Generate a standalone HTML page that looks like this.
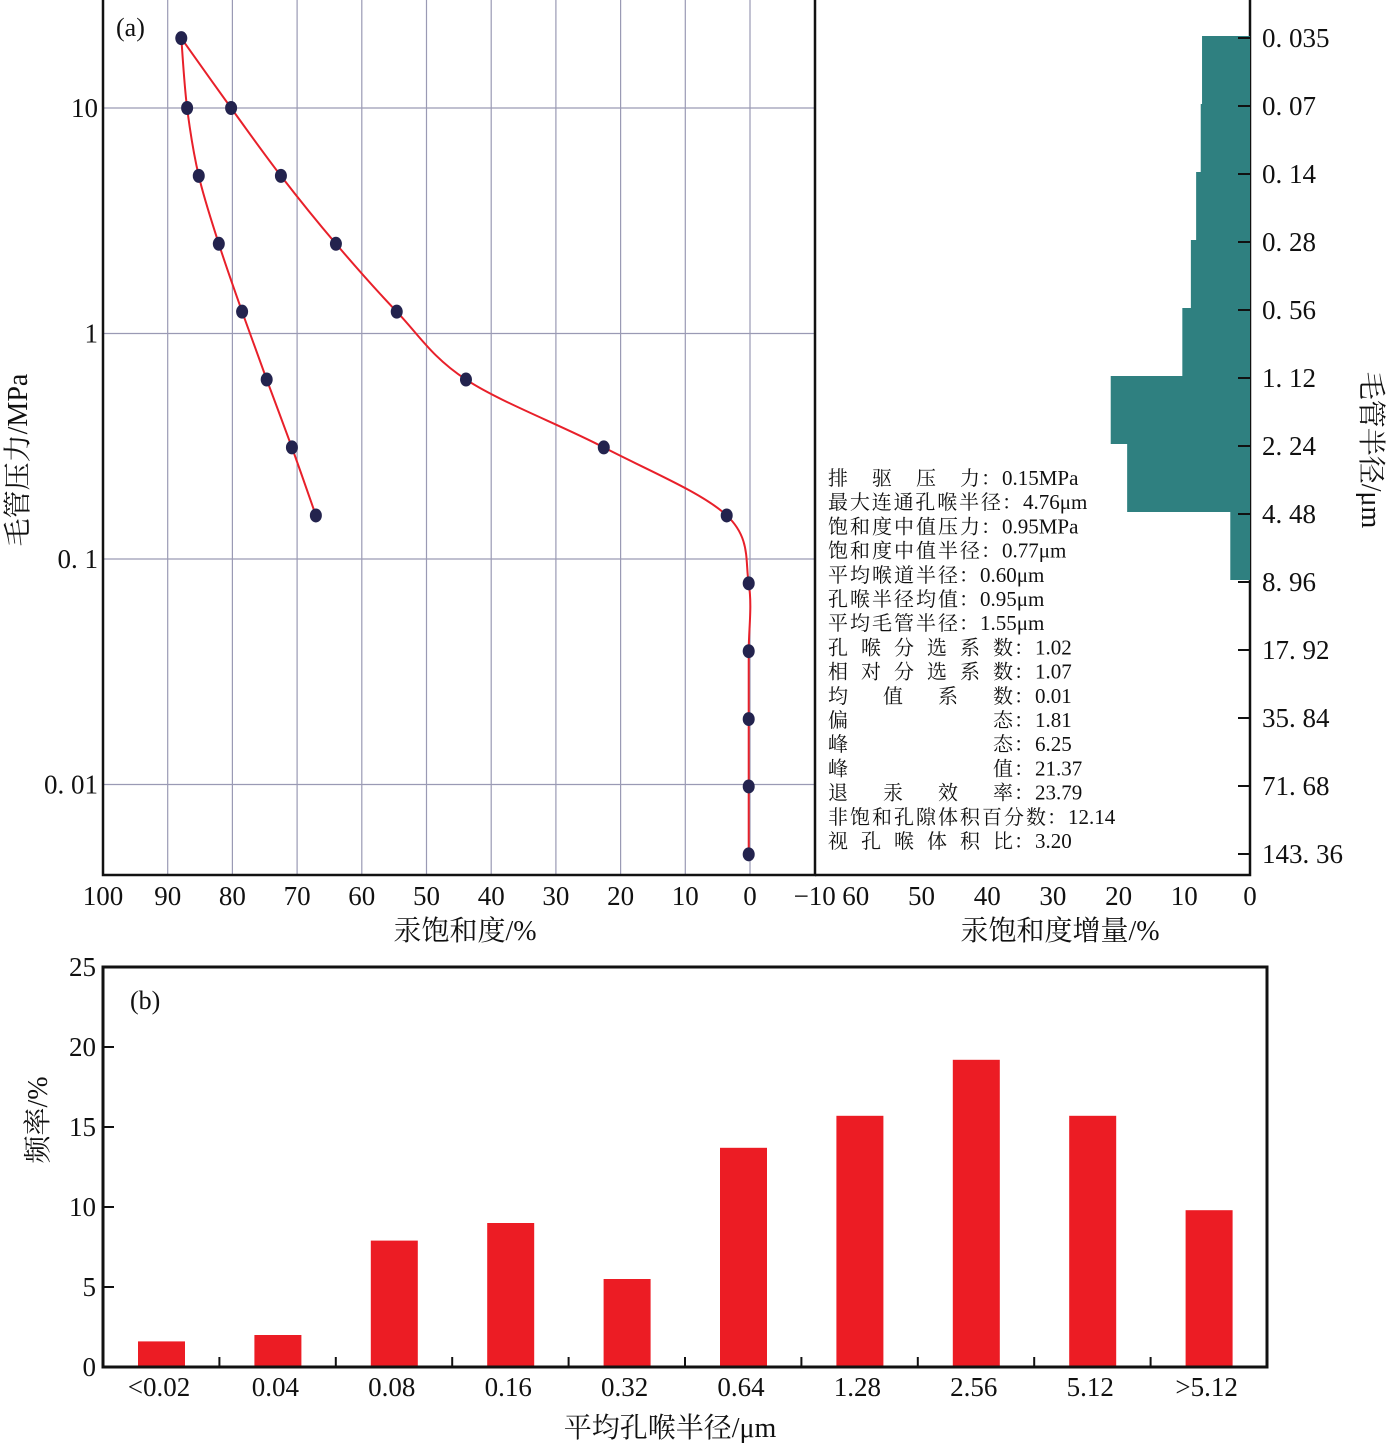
<!DOCTYPE html>
<html><head><meta charset="utf-8"><style>
body{margin:0;background:#fff}
svg text{font-family:"Liberation Serif","Noto Serif CJK SC",serif;fill:#111}
</style></head><body>
<svg id="c" width="1392" height="1445" viewBox="0 0 1392 1445" xmlns="http://www.w3.org/2000/svg"></svg>
<script>
// ---- Panel (a) data ----
const pressures = [20.4,10,5,2.5,1.25,0.625,0.3125,0.156,0.078,0.039,0.0195,0.0098,0.0049];
const injectSat = [87.9,80.2,72.5,64.0,54.6,43.9,22.6,3.6,0.2,0.2,0.2,0.2,0.2];
const withdrawP = [20.4,10,5,2.5,1.25,0.625,0.3125,0.156];
const withdrawSat = [87.9,87.0,85.2,82.1,78.5,74.7,70.8,67.1];
const xTicks = [100,90,80,70,60,50,40,30,20,10,0,-10];
const yTicks = [10,1,0.1,0.01];
const yTickLabels = ["10","1","0. 1","0. 01"];
const radiusTicks = ["0. 035","0. 07","0. 14","0. 28","0. 56","1. 12","2. 24","4. 48","8. 96","17. 92","35. 84","71. 68","143. 36"];
const histVals = [7.3,7.5,8.2,9.0,10.3,21.2,18.7,3.0];
const histTicks = [60,50,40,30,20,10,0];
const stats = [["排驱压力",1002,"0.15MPa"],["最大连通孔喉半径",1023,"4.76μm"],["饱和度中值压力",1002,"0.95MPa"],["饱和度中值半径",1002,"0.77μm"],["平均喉道半径",980,"0.60μm"],["孔喉半径均值",980,"0.95μm"],["平均毛管半径",980,"1.55μm"],["孔喉分选系数",1035,"1.02"],["相对分选系数",1035,"1.07"],["均值系数",1035,"0.01"],["偏态",1035,"1.81"],["峰态",1035,"6.25"],["峰值",1035,"21.37"],["退汞效率",1035,"23.79"],["非饱和孔隙体积百分数",1068,"12.14"],["视孔喉体积比",1035,"3.20"]];
// ---- Panel (b) data ----
const cats = ["<0.02","0.04","0.08","0.16","0.32","0.64","1.28","2.56","5.12",">5.12"];
const freq = [1.6,2.0,7.9,9.0,5.5,13.7,15.7,19.2,15.7,9.8];
const bTicks = [0,5,10,15,20,25];

const svg=document.getElementById('c');
const NS="http://www.w3.org/2000/svg";
function mk(t,a,txt){const e=document.createElementNS(NS,t);for(const k in a)e.setAttribute(k,a[k]);if(txt!==undefined)e.textContent=txt;svg.appendChild(e);return e;}
const sx=v=>750-(v*6.47);
const sy=p=>108-(Math.log10(p)-1)*225.5;
const ry=i=>38+68*i;
const hx=v=>1250-v*6.57;

for(const v of xTicks){if(v<100&&v>-10){const g=mk('line',{x1:sx(v),x2:sx(v),y1:0,y2:875,stroke:'#9a9ab4','stroke-width':1.2});}}
yTicks.forEach(p=>{const g=mk('line',{x1:103,x2:815,y1:sy(p),y2:sy(p),stroke:'#9a9ab4','stroke-width':1.2});});
let f=mk('path',{d:'M103,0 V875 H815 V0',fill:'none',stroke:'#111','stroke-width':2.5});

f=mk('path',{d:'M815,875 H1250 V0',fill:'none',stroke:'#111','stroke-width':2.5});

xTicks.forEach(v=>{const t=mk('text',{x:sx(v),y:905,'font-size':27,'text-anchor':'middle'},v<0?'−10':String(v));});
yTicks.forEach((p,i)=>{const t=mk('text',{x:98,y:sy(p)+9,'font-size':27,'text-anchor':'end'},yTickLabels[i]);});
function smooth(pts){let d='M'+pts[0][0]+','+pts[0][1];for(let i=0;i<pts.length-1;i++){const p0=pts[Math.max(0,i-1)],p1=pts[i],p2=pts[i+1],p3=pts[Math.min(pts.length-1,i+2)];const c1=[p1[0]+(p2[0]-p0[0])/6,p1[1]+(p2[1]-p0[1])/6],c2=[p2[0]-(p3[0]-p1[0])/6,p2[1]-(p3[1]-p1[1])/6];d+=` C${c1[0]},${c1[1]} ${c2[0]},${c2[1]} ${p2[0]},${p2[1]}`;}return d;}
const ip=pressures.map((p,i)=>[sx(injectSat[i]),sy(p)]);
const wp=withdrawP.map((p,i)=>[sx(withdrawSat[i]),sy(p)]);
let c=mk('path',{d:smooth(ip),fill:'none',stroke:'#e8202a','stroke-width':2});
c=mk('path',{d:smooth(wp),fill:'none',stroke:'#e8202a','stroke-width':2});
ip.forEach(p=>{const e=mk('ellipse',{cx:p[0],cy:p[1],rx:6,ry:7,fill:'#23234e'});});
wp.slice(1).forEach(p=>{const e=mk('ellipse',{cx:p[0],cy:p[1],rx:6,ry:7,fill:'#23234e'});});
histVals.forEach((v,i)=>{const r=mk('rect',{x:hx(v),y:ry(i)-2,width:1250-hx(v),height:68,fill:'#2f8080'});});
radiusTicks.forEach((l,i)=>{mk('line',{x1:1238,x2:1250,y1:ry(i),y2:ry(i),stroke:'#111','stroke-width':2});const t=mk('text',{x:1262,y:ry(i)+9,'font-size':27},l);});
histTicks.forEach(v=>{const t=mk('text',{x:hx(v),y:905,'font-size':27,'text-anchor':'middle'},String(v));});
stats.forEach((s,i)=>{const y=485+i*24.2;const t=mk('text',{x:828,y:y,'font-size':20,textLength:s[1]-850,lengthAdjust:'spacing'},s[0]);const co=mk('text',{x:s[1]-21,y:y,'font-size':20},'：');const v=mk('text',{x:s[1],y:y,'font-size':21},s[2]);});
let t=mk('text',{x:116,y:36,'font-size':26},'(a)');
t=mk('text',{x:465,y:940,'font-size':28,'text-anchor':'middle'},'汞饱和度/%');
t=mk('text',{x:1060,y:940,'font-size':28,'text-anchor':'middle'},'汞饱和度增量/%');
t=mk('text',{x:0,y:0,'font-size':28,'text-anchor':'middle',transform:'translate(27,460) rotate(-90)'},'毛管压力/MPa');
t=mk('text',{x:0,y:0,'font-size':28,'text-anchor':'middle',transform:'translate(1362,450) rotate(90)'},'毛管半径/μm');
const bx=i=>103+116.4*i, by=v=>1367-v*16;
freq.forEach((v,i)=>{const r=mk('rect',{x:bx(i)+35,y:by(v),width:47,height:1367-by(v),fill:'#ec1c24'});});
f=mk('rect',{x:103,y:967,width:1164,height:400,fill:'none',stroke:'#111','stroke-width':3});
bTicks.forEach(v=>{mk('line',{x1:103,x2:114,y1:by(v),y2:by(v),stroke:'#111','stroke-width':2});const l=mk('text',{x:96,y:by(v)+9,'font-size':27,'text-anchor':'end'},String(v));});
cats.forEach((s,i)=>{if(i>0)mk('line',{x1:bx(i),x2:bx(i),y1:1357,y2:1367,stroke:'#111','stroke-width':2});const l=mk('text',{x:bx(i)+56,y:1396,'font-size':27,'text-anchor':'middle'},s);});
t=mk('text',{x:130,y:1009,'font-size':26},'(b)');
t=mk('text',{x:670,y:1437,'font-size':28,'text-anchor':'middle'},'平均孔喉半径/μm');
t=mk('text',{x:0,y:0,'font-size':28,'text-anchor':'middle',transform:'translate(47,1120) rotate(-90)'},'频率/%');
</script>
</body></html>
